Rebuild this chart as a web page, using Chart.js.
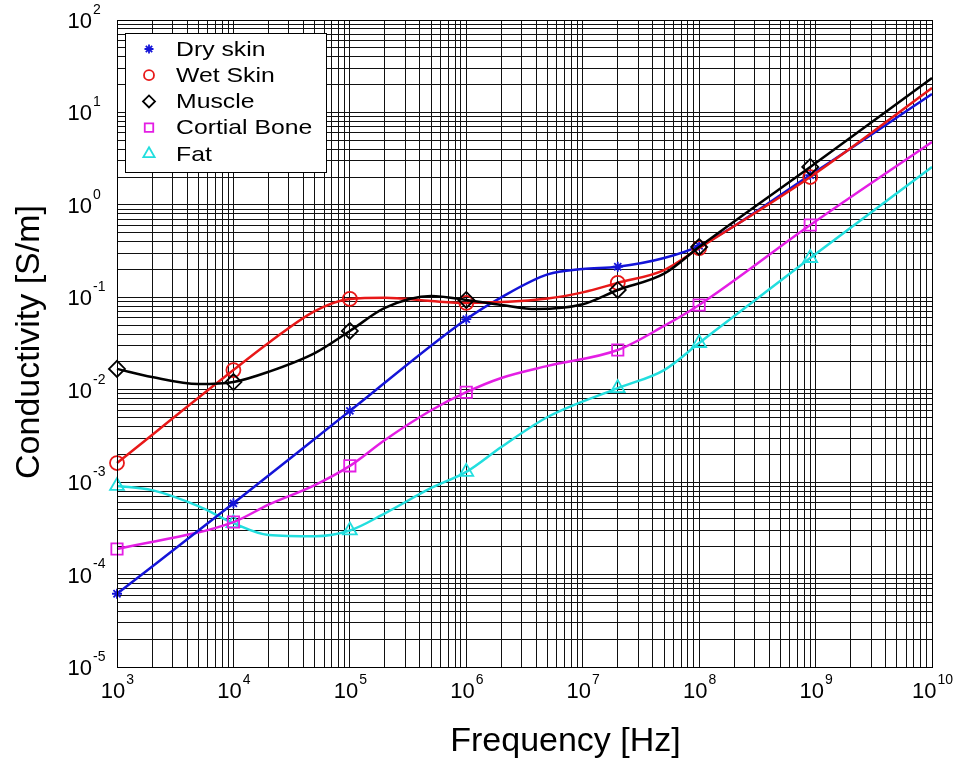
<!DOCTYPE html>
<html>
<head>
<meta charset="utf-8">
<script src="https://cdn.jsdelivr.net/npm/chart.js@4.4.1/dist/chart.umd.min.js"></script>
<style>
  html, body { margin: 0; padding: 0; background: #fff; }
  #wrap { width: 956px; height: 766px; }
</style>
</head>
<body>
<div id="wrap"><canvas id="chart" width="956" height="766"></canvas></div>
<script>
// values (S/m vs Hz)
const drySkinFreq = [1e3, 1e4, 1e5, 1e6, 2e6, 5e6, 1e7, 2e7, 5e7, 1e8, 9e8, 1e10];
const drySkin = [6.2e-5, 5.9e-4, 5.9e-3, 0.058, 0.1, 0.177, 0.202, 0.214, 0.266, 0.36, 2.1, 15.8];

const wetSkinFreq = [1e3, 1e4, 2e4, 5e4, 1e5, 2e5, 5e5, 1e6, 5e6, 1e7, 2e7, 5e7, 1e8, 9e8, 1e10];
const wetSkin = [1.61e-3, 0.0163, 0.032, 0.071, 0.096, 0.099, 0.091, 0.087, 0.097, 0.113, 0.143, 0.197, 0.34, 2.0, 18.4];

const muscleFreq = [1e3, 2e3, 5e3, 1e4, 2e4, 5e4, 1e5, 2e5, 5e5, 1e6, 2e6, 4e6, 1e7, 2e7, 5e7, 1e8, 9e8, 1e10];
const muscle = [0.0168, 0.0137, 0.0115, 0.0121, 0.0156, 0.0249, 0.0432, 0.0766, 0.103, 0.0935, 0.0826, 0.0746, 0.084, 0.12, 0.18, 0.35, 2.57, 23.6];

const boneFreq = [1e3, 1e4, 2e4, 5e4, 1e5, 2e5, 5e5, 1e6, 2e6, 5e6, 2e7, 5e7, 1e8, 9e8, 1e10];
const bone = [1.89e-4, 3.7e-4, 5.7e-4, 9.3e-4, 1.5e-3, 2.86e-3, 6.0e-3, 9.4e-3, 0.0134, 0.0181, 0.0269, 0.049, 0.0826, 0.605, 4.79];

const fatFreq = [1e3, 2e3, 5e3, 1e4, 2e4, 5e4, 1e5, 2e5, 5e5, 1e6, 2e6, 5e6, 2e7, 5e7, 1e8, 9e8, 1e10];
const fat = [9.1e-4, 8.2e-4, 5.5e-4, 3.6e-4, 2.68e-4, 2.6e-4, 3.0e-4, 4.6e-4, 8.65e-4, 1.29e-3, 2.4e-3, 5.07e-3, 0.0104, 0.0163, 0.032, 0.266, 2.57];

const markerFreqs = [1e3, 1e4, 1e5, 1e6, 2e7, 1e8, 9e8];
const seriesNames = ['Dry skin', 'Wet Skin', 'Muscle', 'Cortial Bone', 'Fat'];
const xTickExps = [3, 4, 5, 6, 7, 8, 9, 10];
const yTickExps = [-5, -4, -3, -2, -1, 0, 1, 2];

const FONT = '"Liberation Sans", Arial, Helvetica, sans-serif';

const styles = [
  {color: '#1414d8', point: 'star', r: 5, lr: 4.5},
  {color: '#e81818', point: 'circle', r: 7, lr: 5},
  {color: '#000000', point: 'rectRot', r: 8, lr: 6},
  {color: '#e41ee4', point: 'rect', r: 8, lr: 6},
  {color: '#22dede', point: 'triangle', r: 8, lr: 6.5},
];

function pairs(xs, ys) {
  return xs.map((x, i) => ({x, y: ys[i]}));
}

function logTicks(exps) {
  const ticks = [];
  for (let i = 0; i < exps.length - 1; i++) {
    for (let k = 1; k < 10; k++) ticks.push({value: k * Math.pow(10, exps[i])});
  }
  ticks.push({value: Math.pow(10, exps[exps.length - 1])});
  return ticks;
}

const seriesData = [
  pairs(drySkinFreq, drySkin),
  pairs(wetSkinFreq, wetSkin),
  pairs(muscleFreq, muscle),
  pairs(boneFreq, bone),
  pairs(fatFreq, fat),
];
const drawOrder = [2, 1, 0, 3, 4];

const datasets = seriesNames.map((name, i) => ({
  label: name,
  data: seriesData[i],
  borderColor: styles[i].color,
  borderWidth: 2.5,
  cubicInterpolationMode: 'monotone',
  pointStyle: styles[i].point,
  pointRadius: (c) => markerFreqs.includes(c.raw.x) ? styles[i].r : 0,
  pointBorderColor: styles[i].color,
  pointBackgroundColor: 'rgba(0,0,0,0)',
  pointBorderWidth: 1.8,
  clip: false,
  order: drawOrder[i],
}));

function drawMarker(ctx, style, x, y, r) {
  ctx.beginPath();
  if (style === 'circle') {
    ctx.arc(x, y, r, 0, Math.PI * 2);
  } else if (style === 'rect') {
    const s = r * Math.SQRT1_2;
    ctx.rect(x - s, y - s, 2 * s, 2 * s);
  } else if (style === 'rectRot') {
    ctx.moveTo(x - r, y); ctx.lineTo(x, y - r); ctx.lineTo(x + r, y); ctx.lineTo(x, y + r); ctx.closePath();
  } else if (style === 'triangle') {
    for (let k = 0; k < 3; k++) {
      const a = k * 2 * Math.PI / 3;
      const px = x + Math.sin(a) * r, py = y - Math.cos(a) * r;
      if (k === 0) ctx.moveTo(px, py); else ctx.lineTo(px, py);
    }
    ctx.closePath();
  } else if (style === 'star') {
    for (let k = 0; k < 4; k++) {
      const a = k * Math.PI / 4;
      ctx.moveTo(x - Math.cos(a) * r, y - Math.sin(a) * r);
      ctx.lineTo(x + Math.cos(a) * r, y + Math.sin(a) * r);
    }
  }
  ctx.stroke();
}

function drawPow(ctx, exp, x, y, mode) {
  ctx.font = `22px ${FONT}`;
  const bw = ctx.measureText('10').width;
  ctx.font = `14px ${FONT}`;
  const es = String(exp);
  const ew = ctx.measureText(es).width;
  const left = mode === 'x' ? x - (bw + ew) / 2 : x - bw;
  ctx.textAlign = 'left';
  ctx.textBaseline = 'middle';
  ctx.font = `22px ${FONT}`;
  ctx.fillText('10', left, y);
  ctx.font = `14px ${FONT}`;
  ctx.fillText(es, left + bw + 1, y - 12);
}

const decorations = {
  id: 'decorations',
  afterDraw(chart) {
    const {ctx, chartArea: a, scales: {x, y}} = chart;
    ctx.save();
    ctx.strokeStyle = '#000';
    ctx.lineWidth = 1;
    ctx.strokeRect(Math.round(a.left) + 0.5, Math.round(a.top) + 0.5, Math.round(a.right - a.left), Math.round(a.bottom - a.top));

    ctx.fillStyle = '#000';
    xTickExps.forEach(e => drawPow(ctx, e, x.getPixelForValue(Math.pow(10, e)), a.bottom + 25, 'x'));
    yTickExps.forEach(e => drawPow(ctx, e, 92, y.getPixelForValue(Math.pow(10, e)) + 2, 'y'));

    ctx.font = `34px ${FONT}`;
    ctx.textAlign = 'center';
    ctx.textBaseline = 'middle';
    ctx.fillText('Frequency [Hz]', (a.left + a.right) / 2 + 41, 742);
    ctx.save();
    ctx.translate(30, 342);
    ctx.rotate(-Math.PI / 2);
    ctx.fillText('Conductivity [S/m]', 0, 0);
    ctx.restore();

    // legend
    ctx.fillStyle = '#fff';
    ctx.fillRect(125, 33, 201, 139);
    ctx.strokeStyle = '#000';
    ctx.strokeRect(125.5, 33.5, 201, 139);
    seriesNames.forEach((name, i) => {
      const cy = 49 + i * 26.2;
      ctx.strokeStyle = styles[i].color;
      ctx.lineWidth = 1.8;
      drawMarker(ctx, styles[i].point, 149, cy, styles[i].lr);
      ctx.save();
      ctx.translate(176, cy);
      ctx.scale(1.18, 1);
      ctx.fillStyle = '#000';
      ctx.font = `21px ${FONT}`;
      ctx.textAlign = 'left';
      ctx.textBaseline = 'middle';
      ctx.fillText(name, 0, 1);
      ctx.restore();
    });
    ctx.restore();
  }
};

new Chart(document.getElementById('chart'), {
  type: 'line',
  data: {datasets},
  options: {
    responsive: false,
    animation: false,
    events: [],
    layout: {padding: {left: 117, right: 24, top: 20, bottom: 99}},
    plugins: {legend: {display: false}, tooltip: {enabled: false}},
    scales: {
      x: {
        type: 'logarithmic',
        min: 1e3,
        max: 1e10,
        afterBuildTicks: (axis) => { axis.ticks = logTicks(xTickExps); },
        ticks: {display: false},
        grid: {color: '#111', lineWidth: 1, drawTicks: false},
        border: {color: '#000'},
      },
      y: {
        type: 'logarithmic',
        min: 1e-5,
        max: 1e2,
        afterBuildTicks: (axis) => { axis.ticks = logTicks(yTickExps); },
        ticks: {display: false},
        grid: {color: '#111', lineWidth: 1, drawTicks: false},
        border: {color: '#000'},
      },
    },
  },
  plugins: [decorations],
});
</script>
</body>
</html>
